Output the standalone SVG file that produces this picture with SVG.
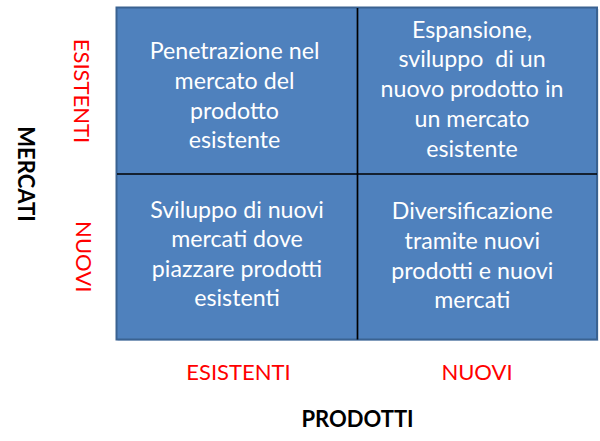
<svg xmlns="http://www.w3.org/2000/svg" width="600" height="441" viewBox="0 0 600 441">
<style>
.cell{font-family:Lato,"Open Sans","Liberation Sans",sans-serif;font-size:23.2px;fill:#ffffff;text-anchor:middle;white-space:pre}
.red{font-family:Lato,"Open Sans","Liberation Sans",sans-serif;font-size:22px;fill:#ff0000;text-anchor:middle}
.axis{font-family:Lato,"Open Sans","Liberation Sans",sans-serif;font-size:22px;font-weight:bold;fill:#000000;text-anchor:middle}
</style>
<rect width="600" height="441" fill="#ffffff"/>
<g id="matrix">
<rect x="117.5" y="9" width="481" height="332" fill="#c9d6e6"/>
<rect x="116.5" y="7.5" width="480.5" height="332" fill="#4f81bd" stroke="#3a6291" stroke-width="2"/>
</g>
<g id="grid">
<line x1="357.5" y1="8" x2="357.5" y2="339.5" stroke="#000000" stroke-width="1.7"/>
<line x1="117" y1="174" x2="597" y2="174" stroke="#000000" stroke-width="1.7"/>
</g>
<g id="cell-penetrazione">
<text class="cell" x="234.5" y="59.3">Penetrazione nel</text>
<text class="cell" x="234.5" y="89">mercato del</text>
<text class="cell" x="234.5" y="118.6">prodotto</text>
<text class="cell" x="234.5" y="148.2">esistente</text>
</g>
<g id="cell-espansione">
<text class="cell" x="472" y="37.5">Espansione,</text>
<text class="cell" x="472" y="67.2">sviluppo  di un</text>
<text class="cell" x="472" y="97">nuovo prodotto in</text>
<text class="cell" x="472" y="126.8">un mercato</text>
<text class="cell" x="472" y="156.6">esistente</text>
</g>
<g id="cell-sviluppo">
<text class="cell" x="237" y="217.5">Sviluppo di nuovi</text>
<text class="cell" x="237" y="247">mercati dove</text>
<text class="cell" x="237" y="276.5">piazzare prodotti</text>
<text class="cell" x="237" y="306.2">esistenti</text>
</g>
<g id="cell-diversificazione">
<text class="cell" x="472.3" y="219.3">Diversificazione</text>
<text class="cell" x="472.3" y="249">tramite nuovi</text>
<text class="cell" x="472.3" y="278.6">prodotti e nuovi</text>
<text class="cell" x="472.3" y="308.3">mercati</text>
</g>
<g id="label-prodotti">
<text class="red" x="238.5" y="380">ESISTENTI</text>
<text class="red" x="477" y="380">NUOVI</text>
<text class="axis" x="357.5" y="427">PRODOTTI</text>
</g>
<g id="label-mercati">
<text class="red" transform="translate(73.5,91) rotate(90)" x="0" y="0">ESISTENTI</text>
<text class="red" transform="translate(76,256.7) rotate(90)" x="0" y="0">NUOVI</text>
<text class="axis" transform="translate(17.5,174) rotate(90)" x="0" y="0">MERCATI</text>
</g>
</svg>
